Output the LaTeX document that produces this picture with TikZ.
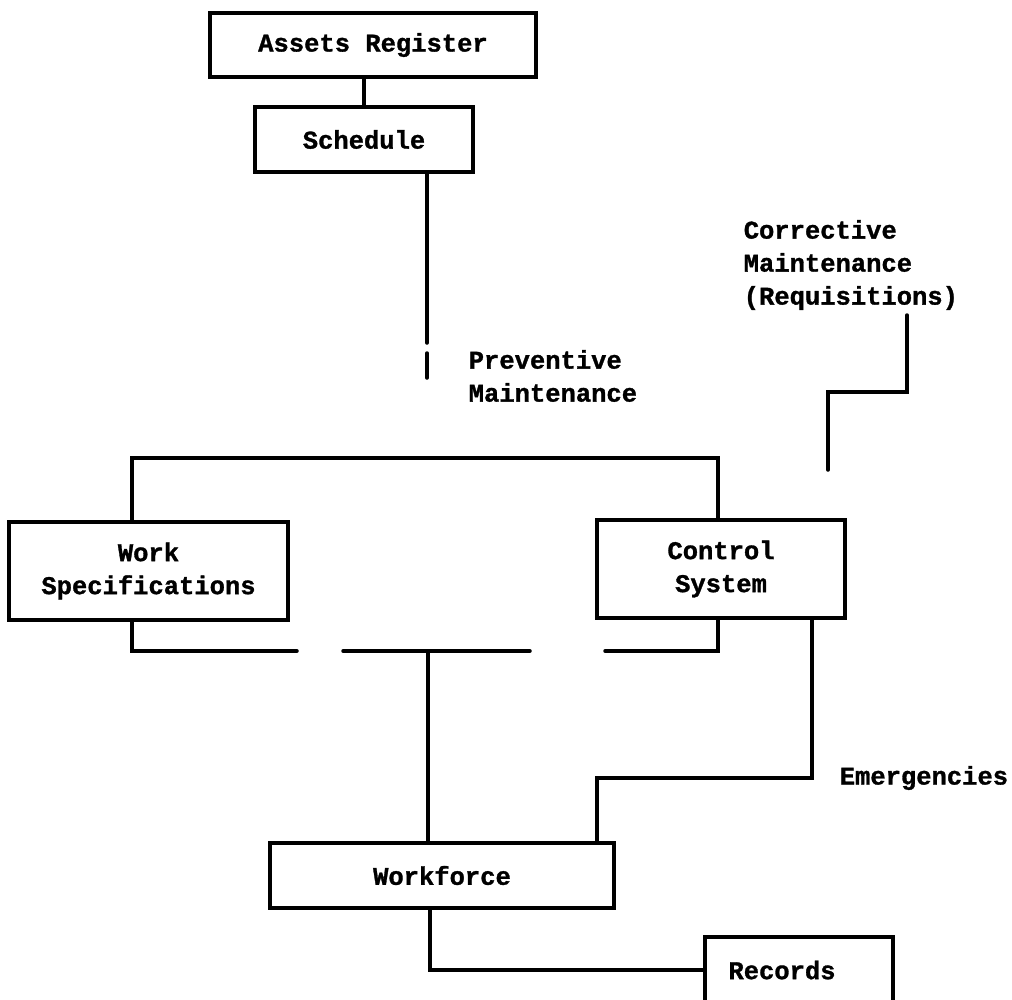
\documentclass[tikz,border=0pt]{standalone}
\usepackage{fontspec}
\setmonofont{Liberation Mono}[BoldFeatures={FakeBold=1.2}]
\usetikzlibrary{calc}
\begin{document}
\begin{tikzpicture}[x=1pt,y=-1pt,
  line width=3.5pt,
  every node/.style={font=\fontsize{25.5}{33}\selectfont\ttfamily\bfseries, inner sep=0pt},
  box/.style={draw, rectangle, align=center, line width=3.5pt},
  lbl/.style={align=left, anchor=west},
  link/.style={line width=3.5pt, line cap=round}
]
\useasboundingbox (0,0) rectangle (1012,999);

% boxes
\node[box, minimum width=326, minimum height=64] (assets) at (373,45) {Assets Register};
\node[box, minimum width=218, minimum height=65] (sched) at (364,139.5) {Schedule};
\node[box, minimum width=279, minimum height=98] (ws) at (148.5,571) {Work\\Specifications};
\node[box, minimum width=248, minimum height=98] (cs) at (721,569) {Control\\System};
\node[box, minimum width=344, minimum height=65] (wf) at (442,875.5) {Workforce};
\node[box, minimum width=188, minimum height=66] (rec) at (799,970) {};
\node (rectxt) at (782,970) {Records};

% labels
\node[lbl] (pm) at (467,376) {Preventive\\Maintenance};
\node[lbl] (cm) at (742,265) {Corrective\\Maintenance\\(Requisitions)};
\node[lbl] (em) at (838,778) {Emergencies};

% free ends
\coordinate (pmEnd) at (427,378);
\coordinate (cmTop) at (907,315);
\coordinate (cmEnd) at (828,470);

% connectors
\draw[link] (assets.south -| sched.north) -- (sched.north);
\draw[link] (sched.south -| pmEnd) -- (427,343);
\draw[link] (427,353) -- (pmEnd);

\draw[link] (ws.north -| 132,0) -- (132,458) -- (718,458) -- (cs.north -| 718,0);

\draw[link] (ws.south -| 132,0) -- (132,651) -- (297,651);
\draw[link] (343,651) -- (530,651);
\draw[link] (605,651) -- (718,651) -- (cs.south -| 718,0);
\draw[link] (428,651) -- (wf.north -| 428,0);

\draw[link] (cs.south -| 812,0) -- (812,778) -- (597,778) -- (wf.north -| 597,0);

\draw[link] (wf.south -| 430,0) -- (430,970) -- (rec.west);

\draw[link] (cmTop) -- (907,392) -- (828,392) -- (cmEnd);
\end{tikzpicture}
\end{document}
